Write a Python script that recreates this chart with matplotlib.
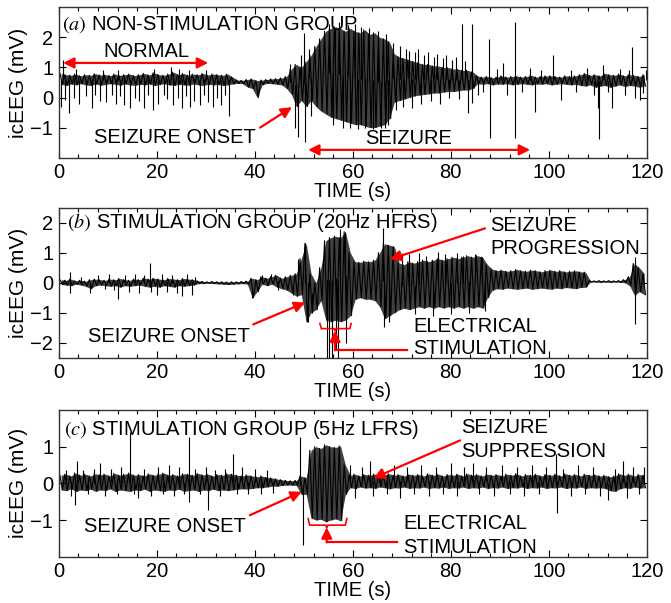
"""icEEG traces: non-stimulation vs 20Hz HFRS vs 5Hz LFRS."""
import matplotlib
matplotlib.use("Agg")
import matplotlib.pyplot as plt
import numpy as np
from matplotlib.ticker import MultipleLocator

plt.rcParams["font.family"] = ["Liberation Sans", "DejaVu Sans"]
plt.rcParams["mathtext.fontset"] = "stix"

# ---- data: per-second envelope of the trace (hi / lo), plus isolated spikes ----
SEC = np.arange(120)

a_hi = [0.8, 0.76, 0.74, 0.78, 0.72, 0.76, 0.74, 0.79, 0.75, 0.76,
        0.73, 0.78, 0.74, 0.76, 0.78, 0.73, 0.76, 0.8, 0.75, 0.82,
        0.76, 0.74, 0.78, 0.84, 0.76, 0.8, 0.74, 0.78, 0.76, 0.8,
        0.75, 0.78, 0.76, 0.74, 0.78, 0.68, 0.58, 0.57, 0.6, 0.62,
        0.56, 0.58, 0.6, 0.62, 0.63, 0.65, 0.7, 0.95, 1.1, 1.0,
        1.2, 1.4, 1.7, 1.95, 2.2, 2.3, 2.35, 2.3, 2.2, 2.3,
        2.2, 2.15, 2.25, 2.1, 2.15, 2.0, 1.95, 1.85, 1.45, 1.35,
        1.3, 1.25, 1.2, 1.15, 1.1, 1.1, 1.05, 1.05, 1.0, 1.0,
        0.95, 0.95, 0.9, 0.9, 0.85, 0.72, 0.68, 0.7, 0.66, 0.68,
        0.72, 0.68, 0.7, 0.72, 0.68, 0.7, 0.74, 0.68, 0.7, 0.72,
        0.72, 0.7, 0.68, 0.72, 0.7, 0.72, 0.76, 0.8, 0.74, 0.76,
        0.72, 0.8, 0.76, 0.74, 0.78, 0.72, 0.76, 0.74, 0.7, 0.76]
a_lo = [0.44, 0.4, 0.45, 0.42, 0.46, 0.42, 0.4, 0.45, 0.41, 0.43,
        0.46, 0.44, 0.41, 0.45, 0.42, 0.4, 0.44, 0.42, 0.45, 0.4,
        0.43, 0.46, 0.42, 0.4, 0.44, 0.42, 0.41, 0.45, 0.42, 0.4,
        0.44, 0.42, 0.43, 0.4, 0.42, 0.45, 0.47, 0.46, 0.35, 0.3,
        0.0, 0.42, 0.47, 0.46, 0.44, 0.42, 0.3, 0.1, -0.3, -0.1,
        -0.3, -0.1, -0.3, -0.45, -0.55, -0.65, -0.7, -0.75, -0.8, -0.85,
        -0.9, -0.9, -0.95, -1.0, -1.0, -0.95, -0.9, -0.7, -0.15, -0.1,
        -0.05, 0.0, 0.05, 0.08, 0.1, 0.12, 0.15, 0.15, 0.18, 0.2,
        0.2, 0.22, 0.25, 0.25, 0.3, 0.46, 0.44, 0.46, 0.42, 0.45,
        0.44, 0.46, 0.42, 0.44, 0.46, 0.44, 0.42, 0.45, 0.44, 0.46,
        0.42, 0.44, 0.46, 0.44, 0.42, 0.44, 0.4, 0.38, 0.42, 0.34,
        0.38, 0.4, 0.34, 0.38, 0.42, 0.36, 0.4, 0.38, 0.34, 0.38]
a_spk_t = [0.5, 0.9, 1.3, 2.0, 3.1, 3.6, 4.2, 5.5, 6.7, 7.5, 8.4, 9.0, 9.7, 10.8,
           11.6, 12.0, 12.5, 13.4, 14.5, 15.6, 16.3, 17.4, 18.2, 19.3, 19.5, 20.3,
           21.5, 22.2, 23.0, 23.4, 24.3, 24.5, 25.1, 26.0, 26.5, 26.8, 27.6, 28.8,
           29.7, 30.0, 30.5, 31.5, 32.3, 33.2, 34.0, 34.8,
           47.3, 48.2, 48.9, 49.5, 50.1, 50.2, 51.0, 51.5,
           55.2, 56.0, 56.4, 57.3, 58.0, 59.0, 59.4, 60.5, 61.0, 61.7, 62.6, 63.3,
           64.2, 65.2, 65.8, 66.5, 66.8, 67.3,
           68.3, 68.9, 69.6, 70.3, 70.9, 71.5, 72.1, 72.7, 73.4, 74.0, 74.6, 75.3,
           75.9, 76.5, 77.2, 77.8, 78.4, 79.1, 79.7, 80.3, 81.0, 81.6, 82.4, 83.0,
           83.6, 84.3, 84.4, 85.5, 86.5, 87.9, 88.0, 89.5, 90.7, 91.5, 93.1, 93.2,
           94.5, 96.2, 97.2, 98.5, 100.8, 102.6, 104.5, 105.5, 107.9, 109.2, 110.0,
           110.3, 111.0, 112.0, 112.9, 114.5, 115.5, 116.3, 117.1, 117.6, 118.6,
           119.3, 119.8]
a_spk_v = [-0.3, 1.26, -0.08, -0.5, 0.0, 0.95, -0.2, 0.05, -0.35, 0.1, -0.1, 0.92, -0.15, 0.1,
           -0.2, 0.9, 0.05, -0.25, -0.35, 0.0, -0.1, -0.35, 0.1, -0.4, 0.95, -0.2,
           0.1, -0.05, 1.0, -0.25, 0.0, 0.95, -0.35, 0.05, 0.9, -0.3, -0.1, -0.25,
           0.1, 0.92, -0.15, -0.3, 0.0, -0.25, 0.1, -0.6,
           1.1, -1.0, -1.3, 1.4, 2.16, -1.47, 1.6, -0.6,
           2.45, -0.9, 2.3, 2.5, -1.0, 2.4, -1.0, 2.45, -1.05, 2.35, -1.0, 2.3,
           -1.05, 2.2, -1.0, -1.0, 2.1, -0.9,
           1.8, -0.4, 1.7, -0.3, 1.6, 1.55, -0.35, 1.5, 1.6, -0.2, 1.4, 1.5,
           -0.1, 1.35, 1.45, -0.2, 1.3, 1.4, 0.0, 1.25, 1.35, -0.05, 2.46, 1.2,
           -0.51, 2.46, -0.19, 0.1, 0.2, 1.95, -1.34, 0.95, 1.16, 0.1, 2.51, -1.34,
           0.2, 0.99, -0.47, 0.9, 1.42, -0.08, 0.9, 0.2, 0.99, 0.1, -0.34,
           -1.39, 1.09, 0.2, -0.34, 0.95, 0.1, 0.9, 1.67, 0.0, -0.08,
           0.15, 0.9]

b_hi = [0.1, 0.08, 0.12, 0.06, 0.08, 0.05, 0.1, 0.12, 0.1, 0.08,
        0.12, 0.1, 0.14, 0.1, 0.08, 0.12, 0.1, 0.15, 0.12, 0.15,
        0.12, 0.1, 0.14, 0.12, 0.1, 0.14, 0.12, 0.1, 0.06, 0.04,
        0.03, 0.04, 0.03, 0.03, 0.02, 0.03, 0.03, 0.04, 0.05, 0.15,
        0.1, 0.2, 0.15, 0.2, 0.25, 0.15, 0.2, 0.25, 0.3, 0.8,
        1.31, 0.3, 0.0, 0.5, 1.4, 1.5, 1.55, 1.5, 1.7, 1.0,
        0.7, 0.68, 0.72, 0.7, 0.75, 1.0, 1.3, 1.25, 1.2, 0.65,
        0.6, 0.7, 0.65, 0.7, 0.75, 0.7, 0.75, 0.8, 0.75, 0.8,
        0.85, 0.8, 0.85, 0.9, 0.85, 0.9, 0.85, 0.6, 0.45, 0.4,
        0.42, 0.38, 0.4, 0.44, 0.4, 0.38, 0.42, 0.4, 0.36, 0.4,
        0.42, 0.38, 0.4, 0.36, 0.38, 0.4, 0.36, 0.35, 0.07, 0.06,
        0.07, 0.06, 0.07, 0.06, 0.07, 0.1, 0.2, 0.64, 0.5, 0.3]
b_lo = [-0.06, -0.08, -0.1, -0.05, -0.08, -0.12, -0.2, -0.1, -0.08, -0.1,
        -0.12, -0.1, -0.15, -0.1, -0.12, -0.1, -0.08, -0.12, -0.15, -0.12,
        -0.15, -0.1, -0.12, -0.15, -0.1, -0.12, -0.1, -0.08, -0.03, -0.03,
        -0.02, -0.03, -0.04, -0.05, -0.06, -0.05, -0.04, -0.03, -0.05, -0.5,
        -0.3, -0.05, -0.1, -0.05, -0.15, -0.2, -0.25, -0.35, -0.45, -0.4,
        -1.31, -1.0, -0.9, -0.6, -1.25, -1.3, -1.25, -1.3, -1.25, -1.1,
        -0.55, -0.5, -0.55, -0.55, -0.6, -0.8, -1.2, -1.1, -1.0, -0.9,
        -0.85, -0.9, -0.85, -0.8, -0.85, -0.8, -0.85, -0.8, -0.85, -0.8,
        -0.85, -0.8, -0.85, -0.8, -0.85, -0.8, -0.85, -0.5, -0.25, -0.2,
        -0.22, -0.18, -0.2, -0.22, -0.2, -0.18, -0.22, -0.2, -0.18, -0.2,
        -0.22, -0.18, -0.2, -0.16, -0.18, -0.2, -0.16, -0.15, 0.02, 0.02,
        0.01, 0.02, 0.01, 0.02, 0.01, 0.0, -0.1, -0.42, -0.3, -0.4]
b_spk_t = [2.3, 2.4, 4.5, 6.4, 8.0, 9.5, 10.3, 11.2, 12.2, 13.5, 14.4, 15.5, 16.3,
           17.5, 18.6, 18.8, 20.0, 21.0, 22.0, 23.2, 24.1, 25.1, 26.2, 27.1, 27.8,
           39.5, 41.5, 43.4, 44.8, 47.9, 48.8, 50.3, 50.9, 51.6,
           54.7, 55.2, 55.8, 56.5, 57.0, 57.5, 58.4, 58.6, 66.2, 66.3, 67.5,
           70.0, 71.4, 72.8, 73.5, 75.0, 76.3, 77.5, 78.8, 80.0, 81.2, 82.5, 83.8,
           85.0, 86.3, 87.0, 117.6, 117.7]
b_spk_v = [0.34, -0.36, 0.2, -0.33, 0.25, -0.2, 0.3, -0.25, -0.53, 0.25, -0.3, 0.3, -0.35,
           0.25, 0.64, -0.3, -0.42, 0.3, -0.3, 0.25, -0.35, -0.45, 0.3, -0.42, 0.2,
           -0.5, 0.25, 0.3, -0.25, -0.42, 0.8, 1.31, -1.31, -1.0,
           -2.5, -2.5, -2.5, -2.2, -2.5, 1.8, 1.7, -2.0, 1.81, -1.48, -1.3,
           1.0, 0.95, -1.05, 1.0, 0.9, -1.1, 1.03, 0.95, -1.05, 1.0, 0.9, -1.0,
           0.95, 0.85, -0.95, -1.37, 0.86]

c_hi = [0.22, 0.25, 0.2, 0.28, 0.22, 0.25, 0.2, 0.26, 0.23, 0.25,
        0.2, 0.27, 0.22, 0.25, 0.28, 0.22, 0.24, 0.2, 0.26, 0.22,
        0.25, 0.28, 0.22, 0.24, 0.2, 0.26, 0.25, 0.22, 0.27, 0.23,
        0.25, 0.2, 0.24, 0.22, 0.26, 0.25, 0.22, 0.2, 0.23, 0.2,
        0.18, 0.2, 0.16, 0.15, 0.12, 0.1, 0.08, 0.07, 0.08, 0.2,
        0.15, 0.9, 1.0, 0.95, 1.05, 1.0, 0.98, 1.02, 0.5, 0.22,
        0.25, 0.2, 0.24, 0.22, 0.25, 0.2, 0.23, 0.26, 0.22, 0.24,
        0.2, 0.25, 0.22, 0.24, 0.2, 0.26, 0.22, 0.25, 0.2, 0.24,
        0.22, 0.25, 0.2, 0.26, 0.22, 0.24, 0.2, 0.25, 0.22, 0.24,
        0.2, 0.25, 0.22, 0.26, 0.2, 0.24, 0.22, 0.25, 0.2, 0.24,
        0.22, 0.25, 0.2, 0.26, 0.22, 0.24, 0.2, 0.25, 0.22, 0.24,
        0.2, 0.22, 0.18, 0.2, 0.26, 0.22, 0.25, 0.2, 0.24, 0.22]
c_lo = [-0.18, -0.2, -0.15, -0.22, -0.18, -0.2, -0.16, -0.22, -0.18, -0.2,
        -0.15, -0.22, -0.18, -0.2, -0.22, -0.18, -0.2, -0.16, -0.22, -0.18,
        -0.2, -0.22, -0.18, -0.2, -0.16, -0.22, -0.2, -0.18, -0.22, -0.18,
        -0.2, -0.16, -0.2, -0.18, -0.2, -0.18, -0.16, -0.15, -0.16, -0.14,
        -0.12, -0.12, -0.1, -0.08, -0.08, -0.06, -0.05, -0.05, -0.06, -0.3,
        -0.3, -0.95, -1.0, -0.98, -1.05, -1.0, -0.97, -1.02, -0.3, -0.12,
        -0.14, -0.1, -0.13, -0.12, -0.14, -0.1, -0.12, -0.15, -0.12, -0.13,
        -0.1, -0.14, -0.12, -0.13, -0.1, -0.14, -0.12, -0.13, -0.1, -0.14,
        -0.12, -0.13, -0.1, -0.14, -0.12, -0.13, -0.1, -0.14, -0.12, -0.13,
        -0.1, -0.14, -0.12, -0.13, -0.1, -0.14, -0.12, -0.13, -0.1, -0.14,
        -0.12, -0.13, -0.1, -0.14, -0.12, -0.13, -0.1, -0.14, -0.12, -0.13,
        -0.12, -0.14, -0.2, -0.22, -0.15, -0.12, -0.14, -0.1, -0.13, -0.12]
c_spk_t = [1.5, 2.5, 3.3, 3.7, 5.0, 6.0, 7.3, 8.4, 9.5, 10.6, 11.8, 12.8, 14.6, 15.3,
           16.2, 17.5, 18.8, 20.2, 21.3, 22.5, 23.6, 24.6, 25.5, 26.5, 26.6, 27.8,
           28.9, 30.0, 30.5, 31.8, 32.9, 34.0, 35.6, 36.4, 37.5, 38.6, 40.0, 41.3,
           42.5, 43.8, 49.2, 49.9, 59.5, 60.5, 61.8, 63.5, 64.2, 65.5, 67.0, 68.4,
           69.7, 71.0, 72.5, 74.0, 75.6, 77.0, 78.5, 80.0, 81.3, 82.8, 84.6, 85.8,
           87.3, 88.9, 90.4, 92.0, 93.5, 95.0, 96.6, 98.0, 99.5, 101.5, 101.6,
           103.0, 104.6, 106.0, 107.5, 109.0, 110.5, 112.2, 113.5, 115.2, 116.0,
           117.3, 118.5, 119.5]
c_spk_v = [0.35, -0.35, -0.59, 0.6, 0.35, -0.3, 0.4, 0.55, -0.35, 0.4, -0.3, 0.45, 1.39, -0.3,
           -0.4, 0.4, -0.35, 0.45, -0.3, 0.5, -0.35, 0.45, -0.3, 1.25, -0.5, 0.4,
           -0.3, 0.45, -0.72, 0.35, -0.35, 0.4, 0.79, -0.3, 0.45, -0.3, 0.4, -0.3,
           0.35, -0.25, 1.25, -1.69, 0.5, -0.4, 0.45, 0.6, -0.35, 0.4, -0.3, 0.5,
           -0.4, 0.45, -0.3, 0.5, -0.35, 0.45, -0.3, 0.55, -0.35, 0.45, 0.55, -0.3,
           0.45, -0.35, 0.5, -0.3, 0.45, -0.35, 0.5, -0.3, 0.45, 0.79, -0.81,
           0.4, -0.35, 0.5, -0.3, 0.45, -0.35, -0.45, 0.4, 0.6, -0.4,
           0.45, -0.3, 0.45]

X_TICKS = [0, 20, 40, 60, 80, 100, 120]
RED = "#ff0000"
FS = 14.5


def draw_trace(ax, hi, lo, spk_t, spk_v):
    hi = np.asarray(hi)
    lo = np.asarray(lo)
    ax.fill_between(SEC + 0.5, lo, hi, color="k", alpha=0.75, lw=0)
    # min/max zigzag inside each one-second bin
    zx = np.column_stack([SEC + 0.25, SEC + 0.75]).ravel()
    zy = np.column_stack([hi, lo]).ravel()
    ax.plot(zx, zy, color="k", lw=0.8)
    idx = np.clip(np.floor(spk_t).astype(int), 0, 119)
    base = (hi[idx] + lo[idx]) / 2
    ax.vlines(spk_t, base, spk_v, color="k", lw=0.8)


def style_axes(ax, ylim, yticks):
    ax.set_xlim(0, 120)
    ax.set_ylim(*ylim)
    ax.set_xticks(X_TICKS)
    ax.xaxis.set_minor_locator(MultipleLocator(4))
    ax.set_yticks(yticks)
    ax.tick_params(which="both", direction="in", top=True, right=True,
                   labelsize=FS, pad=4)
    ax.tick_params(which="major", length=5, width=0.8)
    ax.tick_params(which="minor", length=3, width=0.8)
    for s in ax.spines.values():
        s.set_linewidth(1.0)
        s.set_color("#333333")
    ax.set_xlabel("TIME (s)", fontsize=FS, labelpad=0)
    ax.set_ylabel("icEEG (mV)", fontsize=15)
    ax.yaxis.set_label_coords(-0.053, 0.5)


def red_arrow(ax, tail, tip, style="-|>"):
    ax.annotate("", xy=tip, xytext=tail,
                arrowprops=dict(arrowstyle=style, color=RED, lw=1.6,
                                mutation_scale=16, shrinkA=0, shrinkB=0))


def stim_bracket(ax, t0, t1, tm, y_hook, y_bar, y_tail, y_tip, t_end):
    ax.plot([t0, t0 + 0.3, tm - 0.2, tm, tm + 0.2, t1 - 0.3, t1],
            [y_hook, y_bar, y_bar, y_bar - 0.08, y_bar, y_bar, y_hook],
            color=RED, lw=1.2)
    ax.plot([tm, t_end], [y_tail, y_tail], color=RED, lw=1.6)
    red_arrow(ax, (tm, y_tail), (tm, y_tip))


fig = plt.figure(figsize=(6.71, 6.03), dpi=100)
L, W = 0.0875, 0.8763
ax_a = fig.add_axes([L, 0.7385, W, 0.2494])
ax_b = fig.add_axes([L, 0.4068, W, 0.2488])
ax_c = fig.add_axes([L, 0.0768, W, 0.2433])

# (a) non-stimulation
draw_trace(ax_a, a_hi, a_lo, a_spk_t, a_spk_v)
style_axes(ax_a, (-2, 3), [-1, 0, 1, 2])
ax_a.text(0.7, 2.42, r"$(a)$ NON-STIMULATION GROUP", fontsize=FS, va="center")
ax_a.text(17.8, 1.53, "NORMAL", fontsize=FS, ha="center", va="center")
red_arrow(ax_a, (0.9, 1.15), (30.5, 1.15), "<|-|>")
ax_a.text(23.8, -1.32, "SEIZURE ONSET", fontsize=FS, ha="center", va="center")
red_arrow(ax_a, (41.1, -1.0), (47.6, -0.32))
ax_a.text(71.5, -1.35, "SEIZURE", fontsize=FS, ha="center", va="center")
red_arrow(ax_a, (50.9, -1.74), (96.2, -1.74), "<|-|>")

# (b) 20Hz HFRS
draw_trace(ax_b, b_hi, b_lo, b_spk_t, b_spk_v)
style_axes(ax_b, (-2.5, 2.5), [-2, -1, 0, 1, 2])
ax_b.text(1.6, 2.0, r"$(b)$ STIMULATION GROUP (20Hz HFRS)", fontsize=FS, va="center")
ax_b.text(88.1, 1.92, "SEIZURE", fontsize=FS, va="center")
ax_b.text(88.1, 1.14, "PROGRESSION", fontsize=FS, va="center")
red_arrow(ax_b, (87.0, 1.81), (67.6, 0.78))
ax_b.text(22.4, -1.81, "SEIZURE ONSET", fontsize=FS, ha="center", va="center")
red_arrow(ax_b, (39.7, -1.39), (50.3, -0.66))
stim_bracket(ax_b, 53.3, 59.7, 56.4, -1.36, -1.53, -2.25, -1.6, 71.0)
ax_b.text(72.4, -1.47, "ELECTRICAL", fontsize=FS, va="center")
ax_b.text(72.4, -2.19, "STIMULATION", fontsize=FS, va="center")

# (c) 5Hz LFRS
draw_trace(ax_c, c_hi, c_lo, c_spk_t, c_spk_v)
style_axes(ax_c, (-2, 2), [-1, 0, 1])
ax_c.text(1.0, 1.47, r"$(c)$ STIMULATION GROUP (5Hz LFRS)", fontsize=FS, va="center")
ax_c.text(82.1, 1.52, "SEIZURE", fontsize=FS, va="center")
ax_c.text(82.1, 0.88, "SUPPRESSION", fontsize=FS, va="center")
red_arrow(ax_c, (81.9, 1.17), (64.2, 0.14))
ax_c.text(21.7, -1.19, "SEIZURE ONSET", fontsize=FS, ha="center", va="center")
red_arrow(ax_c, (39.0, -0.87), (49.6, -0.23))
stim_bracket(ax_c, 50.9, 58.8, 54.7, -0.96, -1.14, -1.61, -1.2, 69.0)
ax_c.text(70.3, -1.1, "ELECTRICAL", fontsize=FS, va="center")
ax_c.text(70.3, -1.74, "STIMULATION", fontsize=FS, va="center")

fig.savefig("out.png", dpi=100)
